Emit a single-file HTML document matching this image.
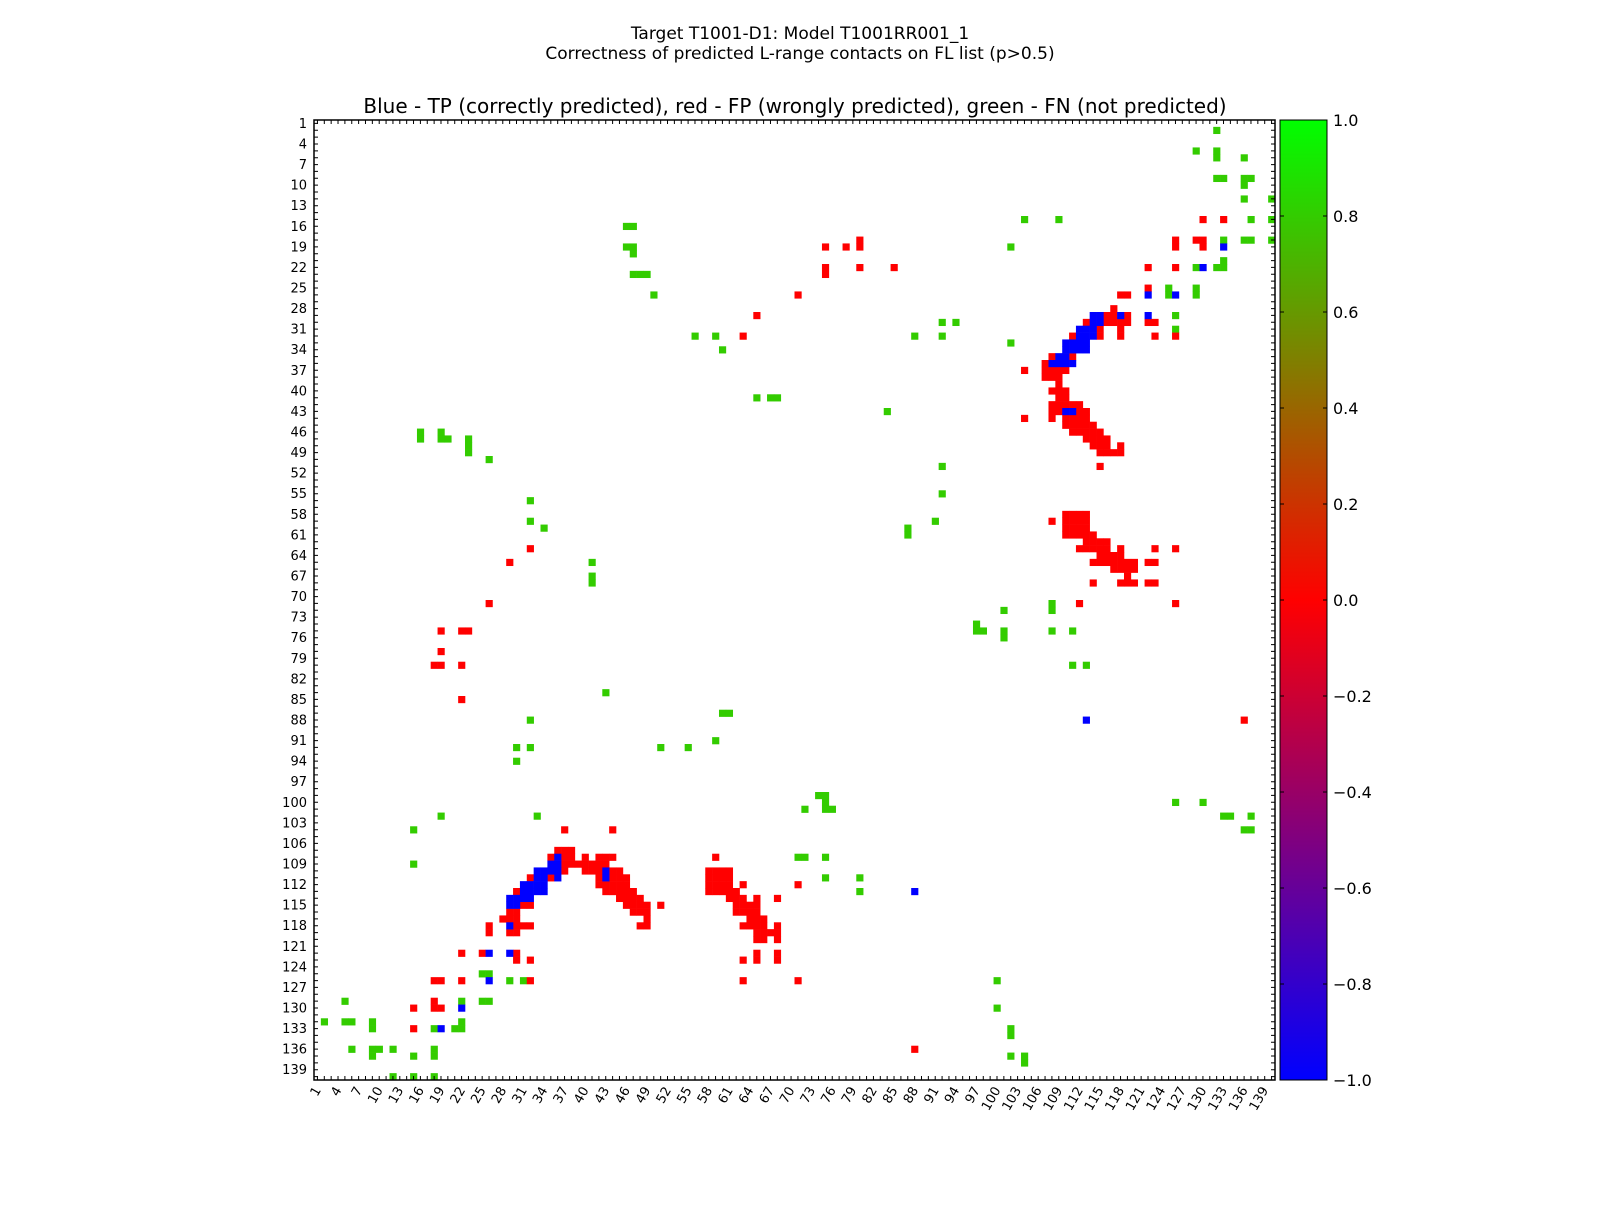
<!DOCTYPE html>
<html><head><meta charset="utf-8"><style>
html,body{margin:0;padding:0;background:#fff;}
svg text{font-family:"DejaVu Sans","Liberation Sans",sans-serif;fill:#000;}
</style></head><body>
<svg id="chart" width="1600" height="1200" viewBox="0 0 1600 1200" xmlns="http://www.w3.org/2000/svg">
<defs>
<linearGradient id="cbgrad" x1="0" y1="0" x2="0" y2="1">
<stop offset="0" stop-color="#00ff00"/><stop offset="0.5" stop-color="#ff0000"/><stop offset="1" stop-color="#0000ff"/>
</linearGradient>
</defs>
<text x="800" y="39" font-size="17" text-anchor="middle">Target T1001-D1: Model T1001RR001_1</text>
<text x="800" y="59" font-size="17" text-anchor="middle">Correctness of predicted L-range contacts on FL list (p&gt;0.5)</text>
<text x="795" y="113" font-size="20" text-anchor="middle">Blue - TP (correctly predicted), red - FP (wrongly predicted), green - FN (not predicted)</text>
<g id="cells"></g>
<g id="axes"></g>
<rect x="1280" y="120" width="47" height="960" fill="url(#cbgrad)" stroke="#000" stroke-width="1"/>
<g id="cbar"></g>
</svg>
<script>
// data: runs of [rowIndex, colStart, colEnd] (0-based residue indices)
const nResidues = 140;
const tpValue = -1.0;
const fpValue = 0.0;
const fnValue = 0.8;
const tpRuns = [
[18,132,132],[21,129,129],[25,121,121],[25,125,125],[28,113,114],[28,117,117],[28,121,121],[29,113,114],
[30,111,113],[31,111,113],[32,109,112],[33,109,112],[34,108,109],[35,107,110],[42,109,110],
[87,112,112],[107,35,35],[108,34,35],[109,32,35],[109,42,42],[110,32,33],[110,35,35],[110,42,42],
[111,30,33],[112,30,33],[113,28,31],[114,28,29],[117,28,28],[121,25,25],[121,28,28],[125,25,25],
[112,87,87],[129,21,21],[132,18,18]
];
const fpRuns = [
[14,129,129],[14,132,132],[17,125,125],[17,128,129],[18,125,125],[18,129,129],[21,121,121],[21,125,125],
[24,121,121],[25,117,118],[27,116,116],[28,115,116],[28,118,118],[29,112,112],[29,115,118],[29,121,122],
[30,114,114],[30,117,117],[31,110,110],[31,114,114],[31,117,117],[31,122,122],[31,125,125],
[34,107,107],[34,110,110],[35,106,106],[36,103,103],[36,106,109],[37,106,108],[38,108,108],[39,107,109],
[40,108,109],[41,107,111],[42,107,108],[42,111,112],[43,103,103],[43,107,107],[43,109,112],[44,109,113],
[45,110,114],[46,112,115],[47,113,115],[47,117,117],[48,114,117],[50,114,114],
[57,109,112],[58,107,107],[58,109,112],[59,109,112],[60,109,113],[61,112,115],[62,111,115],[62,117,117],
[62,122,122],[62,125,125],[63,114,117],[64,113,119],[64,121,122],[65,116,119],[66,118,118],
[67,113,113],[67,117,119],[67,121,122],[70,111,111],[70,125,125],
[18,74,74],[18,77,77],[17,79,79],[18,79,79],[21,74,74],[22,74,74],[21,79,79],[21,84,84],[25,70,70],
[28,64,64],[31,62,62],[62,31,31],[64,28,28],[70,25,25],[74,18,18],[74,21,22],[77,18,18],[79,17,18],
[79,21,21],[84,21,21],[87,135,135],
[103,36,36],[103,43,43],[106,35,37],[107,34,34],[107,36,37],[107,39,39],[107,41,43],[107,58,58],
[108,36,42],[109,36,36],[109,39,40],[109,41,41],[109,43,44],[109,57,60],[110,31,31],[110,34,34],
[110,41,41],[110,43,45],[110,57,60],[111,41,45],[111,57,60],[111,62,62],[111,70,70],[112,29,29],
[112,42,46],[112,57,61],[113,44,47],[113,60,62],[113,64,64],[113,67,67],[114,30,31],[114,45,48],
[114,50,50],[114,61,64],[115,28,29],[115,46,48],[115,61,64],[116,27,29],[116,48,48],[116,63,65],
[117,25,25],[117,29,31],[117,47,48],[117,62,65],[117,67,67],[118,25,25],[118,28,29],[118,64,67],
[119,64,65],[119,67,67],[121,21,21],[121,24,24],[121,29,29],[121,64,64],[121,67,67],[122,29,29],
[122,31,31],[122,62,62],[122,64,64],[122,67,67],[125,17,18],[125,21,21],[125,31,31],[125,62,62],
[125,70,70],[128,17,17],[129,14,14],[129,17,18],[132,14,14],[135,87,87]
];
const fnRuns = [
[1,131,131],[4,128,128],[4,131,131],[5,131,131],[5,135,135],[8,131,132],[8,135,136],[9,135,135],
[11,135,135],[11,139,139],[14,103,103],[14,108,108],[14,136,136],[14,139,139],[17,132,132],[17,135,136],
[17,139,139],[18,101,101],[20,132,132],[21,128,128],[21,131,132],[24,124,124],[24,128,128],
[25,124,124],[25,128,128],[28,125,125],[30,125,125],[32,101,101],
[15,45,46],[18,45,46],[19,46,46],[22,46,48],[25,49,49],[31,55,55],[31,58,58],[33,59,59],[40,64,64],
[40,66,67],[42,83,83],[31,87,87],[29,91,91],[29,93,93],[31,91,91],[45,15,15],[46,15,15],[45,18,18],
[46,18,19],[46,22,22],[47,22,22],[48,22,22],[49,25,25],[50,91,91],[54,91,91],[58,90,90],[59,86,86],
[60,86,86],[55,31,31],[58,31,31],[59,33,33],[64,40,40],[66,40,40],[67,40,40],[71,100,100],[73,96,96],
[74,96,97],[74,100,100],[75,100,100],[70,107,107],[71,107,107],[74,107,107],[74,110,110],[79,110,110],
[79,112,112],[83,42,42],[86,59,60],[87,31,31],[91,29,29],[91,31,31],[93,29,29],[91,50,50],[91,54,54],
[90,58,58],[98,73,74],[99,74,74],[100,74,75],[100,71,71],[99,125,125],[99,129,129],[101,132,133],
[101,136,136],[103,135,136],[101,18,18],[101,32,32],[103,14,14],[108,14,14],[107,70,71],[107,74,74],
[110,74,74],[110,79,79],[112,79,79],[124,24,25],[125,28,28],[125,30,30],[125,99,99],[129,99,99],
[132,101,101],[133,101,101],[136,101,101],[136,103,103],[137,103,103],[128,4,4],[128,21,21],
[128,24,25],[131,1,1],[131,4,5],[131,8,8],[132,8,8],[131,21,21],[132,17,17],[132,20,21],
[135,5,5],[135,8,9],[136,8,8],[135,11,11],[136,14,14],[135,17,17],[136,17,17],[139,11,11],
[139,14,14],[139,17,17]
];
const tickLabels = [];
for (let k = 1; k <= 139; k += 3) tickLabels.push(k);
const cbarTicks = [1.0, 0.8, 0.6, 0.4, 0.2, 0.0, -0.2, -0.4, -0.6, -0.8, -1.0];

const NS = 'http://www.w3.org/2000/svg';
const plotX = 314, plotY = 120, plotW = 961, plotH = 960;
const cw = plotW / nResidues, ch = plotH / nResidues;
function xScale(i){ return plotX + i * cw; }
function yScale(i){ return plotY + i * ch; }
function colorFor(v){
  let r, g, b;
  if (v < 0){ r = 1 + v; g = 0; b = -v; } else { r = 1 - v; g = v; b = 0; }
  return 'rgb(' + Math.round(r*255) + ',' + Math.round(g*255) + ',' + Math.round(b*255) + ')';
}
function mk(tag, attrs){ const e = document.createElementNS(NS, tag); for (const k in attrs) e.setAttribute(k, attrs[k]); return e; }

const cells = document.getElementById('cells');
function drawRuns(runs, value, name){
  runs.forEach(function(run){
    for (let c = run[1]; c <= run[2]; c++){
      const r = mk('rect', {x: xScale(c).toFixed(2), y: yScale(run[0]).toFixed(2), width: (cw+0.3).toFixed(2), height: (ch+0.3).toFixed(2), fill: colorFor(value)});
      
      
      cells.appendChild(r);
    }
  });
}
drawRuns(fnRuns, fnValue, 'fn-cell');
drawRuns(fpRuns, fpValue, 'fp-cell');
drawRuns(tpRuns, tpValue, 'tp-cell');

const axes = document.getElementById('axes');
const frame = mk('rect', {x: plotX, y: plotY, width: plotW, height: plotH, fill: 'none', stroke: '#000', 'stroke-width': 1.5});


axes.appendChild(frame);
let tickPath = '';
for (let i = 0; i < nResidues; i++){
  const x = xScale(i + 0.5), y = yScale(i + 0.5);
  const L = 4;
  tickPath += 'M' + x.toFixed(2) + ' ' + plotY + 'v' + L + 'M' + x.toFixed(2) + ' ' + (plotY+plotH) + 'v-' + L;
  tickPath += 'M' + plotX + ' ' + y.toFixed(2) + 'h' + L + 'M' + (plotX+plotW) + ' ' + y.toFixed(2) + 'h-' + L;
}
const ticks = mk('path', {d: tickPath, stroke: '#000', 'stroke-width': 1, fill: 'none'});


axes.appendChild(ticks);
tickLabels.forEach(function(lab){
  const y = yScale(lab - 0.5);
  const t = mk('text', {x: plotX - 7, y: (y + 4.5).toFixed(2), 'font-size': 13, 'text-anchor': 'end'});
  t.textContent = lab;
  
  
  axes.appendChild(t);
  const x = xScale(lab - 0.5);
  const tx = mk('text', {x: (x + 4).toFixed(2), y: plotY + plotH + 10, 'font-size': 13, 'text-anchor': 'end', transform: 'rotate(-60 ' + (x + 4).toFixed(2) + ' ' + (plotY + plotH + 10) + ')'});
  tx.textContent = lab;
  
  
  axes.appendChild(tx);
});

const cbar = document.getElementById('cbar');
cbarTicks.forEach(function(v){
  const y = 120 + (1 - v) / 2 * 960;
  const p = mk('path', {d: 'M1280 ' + y.toFixed(2) + 'h4M1327 ' + y.toFixed(2) + 'h-4', stroke: '#000', 'stroke-width': 1});
  
  
  cbar.appendChild(p);
  const t = mk('text', {x: 1333, y: (y + 6).toFixed(2), 'font-size': 16});
  t.textContent = (v < 0 ? '\u2212' : '') + Math.abs(v).toFixed(1);
  
  
  cbar.appendChild(t);
});
</script>
</body></html>
